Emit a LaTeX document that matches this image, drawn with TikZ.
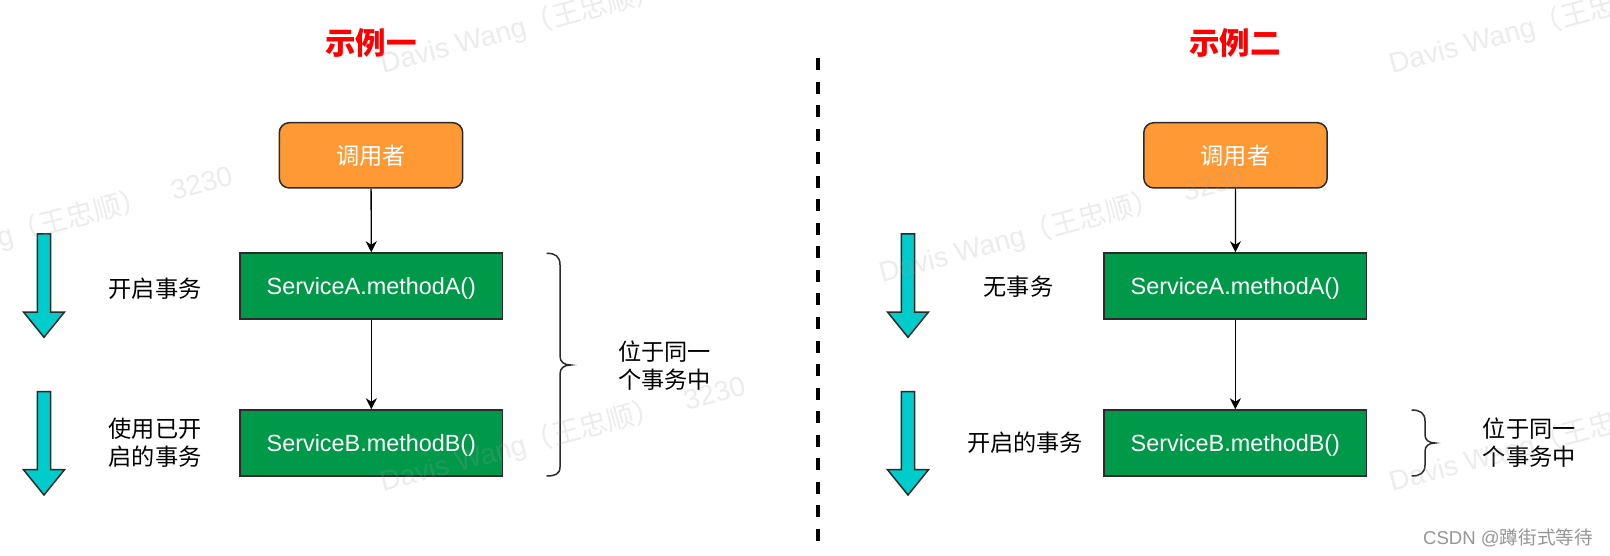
\documentclass[tikz,border=0pt]{standalone}
\usepackage{fontspec}
\setmainfont{Liberation Sans}
\newfontfamily\cjk{Noto Sans CJK SC}
\usetikzlibrary{arrows.meta}
\definecolor{orangefill}{HTML}{FF9933}
\definecolor{greenfill}{HTML}{00994A}
\definecolor{cyanfill}{HTML}{00CCCC}
\definecolor{edgedark}{HTML}{2B2B2B}
\definecolor{wmgray}{HTML}{A0A0A0}
\definecolor{csdngray}{HTML}{969696}
\newcommand\wmtext{Davis Wang{\cjk （王忠顺）}\hspace{0.6em} 3230}
\begin{document}
\begin{tikzpicture}[x=1pt,y=-1pt,
  caller/.style={draw=edgedark, line width=1.5pt, fill=orangefill, rounded corners=10pt,
    minimum width=183.4pt, minimum height=65.3pt, inner sep=0pt, text=white,
    font=\fontsize{23.2}{28}\selectfont\cjk},
  service/.style={draw=edgedark, line width=1.5pt, fill=greenfill,
    minimum width=262.7pt, minimum height=66pt, inner sep=0pt, text=white,
    text height=16.75pt, text depth=0pt, font=\fontsize{23.4}{28}\selectfont},
  flow/.style={draw=black, line width=1.3pt, -{Stealth[length=11pt,width=11pt,inset=3.5pt]}},
  label/.style={inner sep=0pt, align=center, font=\fontsize{23.2}{28.5}\selectfont\cjk},
  note/.style={inner sep=0pt, align=left, anchor=west, font=\fontsize{23.2}{28}\selectfont\cjk},
  title/.style={inner sep=0pt, text=red, font=\fontsize{30.5}{36}\selectfont\cjk\bfseries},
  downarrow/.style={draw=edgedark, line width=1.5pt, fill=cyanfill, line join=miter},
  bracket/.style={draw=edgedark, line width=1.5pt},
  divider/.style={draw=black, line width=4.5pt, dash pattern=on 12pt off 11.5pt},
  watermark/.style={anchor=base west, rotate=15, inner sep=0pt, text=wmgray, text opacity=0.2,
    font=\fontsize{28}{30}\selectfont},
  credit/.style={inner sep=0pt, text=csdngray, font=\fontsize{18.6}{22}\selectfont},
  cyanarrow/.pic={\draw[downarrow] (-6.7,0) -- (6.7,0) -- (6.7,78) -- (20.5,78) -- (0,103.3)
    -- (-20.5,78) -- (-6.7,78) -- cycle;}
]
\useasboundingbox (0,0) rectangle (1610,556);
\fill[white] (0,0) rectangle (1610,556);

% titles
\node[title] (t1) at (371,43) {示例一};
\node[title] (t2) at (1235,43) {示例二};

% divider
\coordinate (dtop) at (818,58.5);
\coordinate (dbot) at (818,541);
\draw[divider] (dtop) -- (dbot);

% left example
\node[caller] (callL) at (371,155.35) {调用者};
\node[service] (aL) at (371.35,286) {ServiceA.methodA()};
\node[service] (bL) at (371.35,443) {ServiceB.methodB()};
\draw[flow] (callL) -- (aL);
\draw[flow] (aL) -- (bL);
\pic at (44,234) {cyanarrow};
\pic at (44,391.7) {cyanarrow};
\node[label] (lA) at (155,289) {开启事务};
\node[label] (lB) at (155,442.5) {使用已开\\启的事务};
\draw[bracket] (546.7,253.3) .. controls (555,253.3) and (560,256) .. (560,265) -- (560,356)
  .. controls (560,362) and (564,365) .. (570.7,365)
  .. controls (564,365) and (560,368) .. (560,374) -- (560,467)
  .. controls (560,474) and (555,476) .. (546.7,476);
\node[note] (nL) at (618,365.5) {位于同一\\个事务中};

% right example
\node[caller] (callR) at (1235.5,155.35) {调用者};
\node[service] (aR) at (1235.35,286) {ServiceA.methodA()};
\node[service] (bR) at (1235.35,443) {ServiceB.methodB()};
\draw[flow] (callR) -- (aR);
\draw[flow] (aR) -- (bR);
\pic at (908,234) {cyanarrow};
\pic at (908,391.7) {cyanarrow};
\node[label] (rA) at (1018.5,287) {无事务};
\node[label] (rB) at (1025,443) {开启的事务};
\draw[bracket] (1411.7,410) .. controls (1420,410) and (1425,413) .. (1425,421) -- (1425,435)
  .. controls (1425,440) and (1429,443) .. (1435,443)
  .. controls (1429,443) and (1425,446) .. (1425,451) -- (1425,465)
  .. controls (1425,473) and (1420,476) .. (1411.7,476);
\node[note] (nR) at (1482.7,443) {位于同一\\个事务中};

% credit
\node[credit] (csdn) at (1508,537.5) {CSDN @{\cjk 蹲街式等待}};

% watermarks
\node[watermark] (w1) at (-130,282) {\wmtext};
\node[watermark] (w2) at (882,283) {\wmtext};
\node[watermark] (w3) at (383,492) {\wmtext};
\node[watermark] (w4) at (1392,492) {\wmtext};
\node[watermark] (w5) at (383,74) {\wmtext};
\node[watermark] (w6) at (1392,74) {\wmtext};
\end{tikzpicture}
\end{document}
